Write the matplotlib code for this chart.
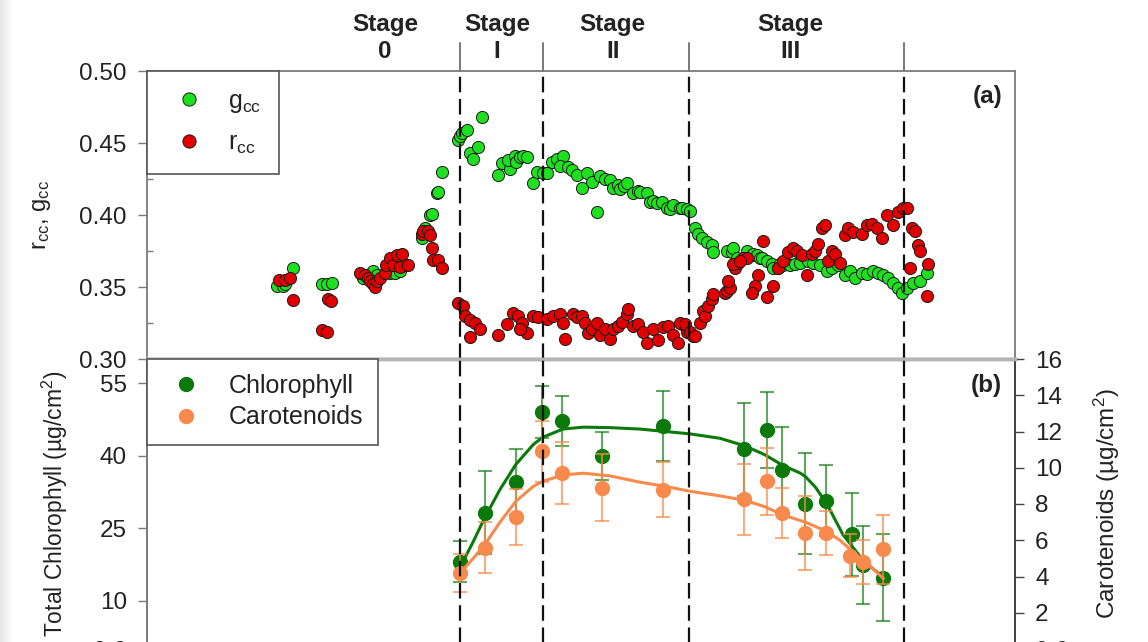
import numpy as np
import matplotlib
matplotlib.use("Agg")
import matplotlib.pyplot as plt
from matplotlib.transforms import blended_transform_factory
from matplotlib.lines import Line2D

plt.rcParams['font.family'] = ['Liberation Sans', 'DejaVu Sans']
plt.rcParams['mathtext.default'] = 'regular'

# ---------------- data ----------------
gcc_day = [18.0, 18.8, 19.1, 20.2, 24.2, 24.9, 25.6,
           29.9, 30.8, 31.2, 31.8, 33.6, 34.3, 35.0, 35.7,
           38.0, 38.4, 39.1, 39.4, 40.1, 40.2, 40.8,
           43.0, 43.3, 43.6, 44.2, 46.3, 44.7, 45.8, 45.1, 48.5, 49.1, 50.2, 49.9, 50.9, 51.0,
           51.6, 52.0, 52.5, 53.4, 53.9, 54.7, 55.3,
           56.0, 56.7, 57.5, 57.1, 58.2, 58.8, 59.5, 60.1, 60.8, 61.5, 62.6, 63.3, 64.0, 64.4,
           65.1, 65.4, 66.0, 66.4, 67.2, 67.9, 68.2, 69.1, 69.5, 70.0, 70.5, 71.2, 71.9, 72.3,
           72.7, 73.7, 74.0, 74.7, 75.1, 62.2,
           75.8, 76.2, 76.7, 77.4, 78.1, 78.3, 80.2, 80.9, 81.0, 81.6, 83.0, 83.6, 83.8, 84.3,
           84.8, 85.0, 85.7, 86.4, 86.5, 87.2, 87.5, 87.9, 88.9, 89.6, 90.3, 91.4, 92.1, 93.0,
           94.0, 94.7, 95.5, 96.5, 97.2, 97.9, 98.9, 99.5, 100.4, 101.1, 101.8, 102.4, 103.1,
           103.8, 104.4, 105.1, 105.9, 106.9, 107.8]
gcc_val = [0.351, 0.351, 0.352, 0.363, 0.352, 0.352, 0.353,
           0.356, 0.359, 0.361, 0.358, 0.360, 0.360, 0.361, 0.365,
           0.384, 0.391, 0.400, 0.401, 0.415, 0.416, 0.430,
           0.452, 0.455, 0.457, 0.459, 0.468, 0.443, 0.447, 0.439, 0.428, 0.436, 0.432, 0.438, 0.441, 0.437,
           0.440, 0.441, 0.440, 0.422, 0.430, 0.429, 0.429,
           0.437, 0.439, 0.441, 0.434, 0.433, 0.431, 0.428, 0.419, 0.429, 0.423, 0.427, 0.425, 0.424, 0.419,
           0.421, 0.418, 0.420, 0.422, 0.415, 0.417, 0.416, 0.415, 0.409, 0.410, 0.408, 0.409, 0.405, 0.404,
           0.407, 0.405, 0.405, 0.404, 0.403, 0.402,
           0.391, 0.387, 0.384, 0.381, 0.379, 0.374, 0.375, 0.374, 0.377, 0.370, 0.375, 0.372, 0.373, 0.372,
           0.370, 0.370, 0.368, 0.366, 0.363, 0.363, 0.366, 0.365, 0.365, 0.366, 0.367, 0.368, 0.367, 0.365,
           0.361, 0.363, 0.365, 0.358, 0.361, 0.356, 0.360, 0.359, 0.361, 0.360, 0.358, 0.356, 0.353,
           0.349, 0.346, 0.349, 0.353, 0.354, 0.360]

rcc_day = [18.3, 19.1, 19.8, 20.2, 25.0, 25.4, 24.2, 24.9,
           29.4, 30.1, 30.5, 30.8, 31.2, 31.5, 31.8, 32.2, 32.9, 33.0, 33.6, 34.0, 34.6, 35.0, 35.3, 36.1,
           38.0, 38.2, 38.8, 39.1, 39.4, 39.5, 40.2, 40.8,
           43.0, 43.7, 44.0, 44.7, 45.3, 46.0, 44.7, 48.5, 49.8, 50.6, 51.3, 51.8, 52.5, 51.6,
           53.4, 54.1, 55.3, 56.1, 57.1, 57.5, 57.8, 58.9, 59.5, 60.1, 60.6, 61.0, 61.5, 62.2, 62.6,
           63.3, 64.0, 64.4, 65.1, 65.7, 66.4, 66.5, 67.2, 67.9, 68.6, 69.1, 70.0, 70.6, 71.3, 72.0,
           72.7, 73.4, 74.0, 74.7, 75.5,
           73.7, 74.4, 75.1, 75.8, 76.5, 76.9, 77.1, 77.6, 78.1, 78.3, 79.9, 80.2, 80.6, 80.3, 81.3,
           81.7, 82.4, 83.0, 81.0, 82.0, 85.2, 84.5, 84.1, 83.6, 85.7, 86.5, 87.2, 87.9, 88.6, 89.3,
           89.9, 90.6, 91.2, 91.9, 92.4, 92.8, 93.3, 93.7, 94.2, 94.7, 95.1, 95.8, 96.5, 96.9, 97.6,
           98.9, 99.5, 100.2, 100.9, 101.6, 102.3, 103.1, 103.8, 104.5, 105.1, 105.8, 106.2, 106.6,
           106.9, 105.5, 108.0, 107.8]
rcc_val = [0.355, 0.355, 0.356, 0.341, 0.342, 0.340, 0.320, 0.319,
           0.360, 0.358, 0.356, 0.354, 0.352, 0.350, 0.354, 0.356, 0.360, 0.365, 0.370, 0.365, 0.372, 0.364, 0.373, 0.365,
           0.387, 0.389, 0.389, 0.386, 0.377, 0.369, 0.369, 0.363,
           0.339, 0.337, 0.330, 0.327, 0.325, 0.321, 0.315, 0.317, 0.324, 0.332, 0.330, 0.325, 0.318, 0.321,
           0.330, 0.329, 0.328, 0.330, 0.331, 0.325, 0.314, 0.331, 0.329, 0.330, 0.325, 0.318, 0.321, 0.325, 0.317,
           0.321, 0.314, 0.321, 0.323, 0.326, 0.331, 0.335, 0.323, 0.324, 0.319, 0.311, 0.321, 0.313, 0.322, 0.323,
           0.317, 0.311, 0.324, 0.319, 0.316,
           0.325, 0.324, 0.319, 0.316, 0.325, 0.333, 0.330, 0.337, 0.342, 0.345, 0.346, 0.347, 0.349, 0.354, 0.363,
           0.367, 0.370, 0.370, 0.366, 0.368, 0.382, 0.358, 0.351, 0.346, 0.343, 0.351, 0.363, 0.368, 0.374, 0.377,
           0.375, 0.372, 0.358, 0.373, 0.375, 0.380, 0.391, 0.393, 0.368, 0.375, 0.373, 0.367, 0.386, 0.391, 0.388,
           0.387, 0.393, 0.394, 0.391, 0.384, 0.400, 0.393, 0.402, 0.405, 0.405, 0.391, 0.389, 0.379,
           0.375, 0.363, 0.366, 0.344]

chl_day = [43.3, 46.7, 51.0, 54.6, 57.4, 62.9, 71.3, 82.5, 85.7, 87.8, 91.0, 93.9, 97.5, 99.0, 101.8]
chl_val = [18.1, 28.2, 34.5, 49.0, 47.1, 39.9, 46.1, 41.3, 45.3, 37.0, 30.1, 30.7, 23.7, 17.4, 14.7]
chl_err = [4.2, 8.6, 6.8, 5.4, 5.2, 5.0, 7.3, 9.6, 7.8, 9.0, 10.4, 7.3, 8.6, 8.0, 9.0]

car_day = [43.3, 46.7, 51.0, 54.6, 57.4, 62.9, 71.3, 82.5, 85.7, 87.8, 91.0, 93.9, 97.2, 99.0, 101.8]
car_val = [4.2, 5.6, 7.3, 10.9, 9.7, 8.9, 8.8, 8.25, 9.25, 7.5, 6.4, 6.4, 5.15, 4.8, 5.5]
car_err = [1.05, 1.4, 1.55, 1.7, 1.7, 1.85, 1.5, 1.95, 1.85, 1.4, 2.05, 1.2, 1.2, 1.2, 1.9]

chl_fit_day = [43.3, 45.1, 46.7, 48.8, 51.0, 53.4, 54.7, 57.5, 60.3, 64.0, 68.2, 75.1, 79.2,
               82.7, 85.4, 87.9, 90.3, 91.0, 92.4, 94.0, 96.2, 98.6, 100.2, 101.8]
chl_fit_val = [17.0, 22.2, 27.2, 33.0, 38.2, 42.3, 43.8, 45.5, 45.9, 45.8, 45.5, 44.5, 43.6,
               42.0, 40.2, 38.0, 36.4, 35.7, 33.5, 30.0, 23.7, 19.1, 16.8, 14.9]
car_fit_day = [43.3, 45.1, 46.7, 48.8, 51.0, 53.4, 54.7, 57.5, 60.3, 64.0, 68.2, 71.3, 75.1,
               79.2, 82.7, 85.4, 87.9, 91.0, 93.9, 95.8, 97.2, 99.0, 100.4, 101.8]
car_fit_val = [4.2, 5.0, 5.76, 7.0, 8.15, 8.97, 9.25, 9.6, 9.7, 9.55, 9.2, 9.0, 8.7,
               8.45, 8.2, 7.85, 7.4, 7.0, 6.5, 6.0, 5.5, 4.9, 4.4, 3.9]

stage_bounds = [43.3, 54.7, 74.9, 104.7]
stage_labels = ["Stage\n0", "Stage\nI", "Stage\nII", "Stage\nIII"]
stage_label_day = [32.9, 48.4, 64.4, 88.9]

top_yticks = [0.30, 0.35, 0.40, 0.45, 0.50]
left_yticks = [0, 10, 25, 40, 55]
left_yticklabels = ["0.0", "10", "25", "40", "55"]
right_yticks = [0, 2, 4, 6, 8, 10, 12, 14, 16]
right_yticklabels = ["0.0", "2", "4", "6", "8", "10", "12", "14", "16"]

# ---------------- style ----------------
W, H = 1148, 642
fig = plt.figure(figsize=(W / 100, H / 100), dpi=100)
FS = 17.5
LFS = 18
c_g = '#1fe01f'
c_r = '#e10000'
c_chl = '#0b7a0b'
c_car = '#f78a4c'
spine_c = '#7a7a7a'
txt_c = '#222222'

# light gray gradient strip at left edge
axg = fig.add_axes([0, 0, 13 / W, 1])
axg.imshow(np.linspace(0.90, 1.0, 50)[None, :], cmap='gray', vmin=0, vmax=1,
           aspect='auto', extent=[0, 1, 0, 1])
axg.axis('off')

L = 147 / W
Wd = 868 / W
ax = fig.add_axes([L, (H - 359) / H, Wd, 288 / H])
axb = fig.add_axes([L, (H - 649) / H, Wd, 290 / H])
axr = axb.twinx()

# ---- top panel ----
ax.scatter(gcc_day, gcc_val, s=76, c=c_g, edgecolors='#1a1a1a', linewidths=0.7, zorder=3)
ax.scatter(rcc_day, rcc_val, s=76, c=c_r, edgecolors='#1a1a1a', linewidths=0.7, zorder=4)
ax.set_xlim(0, 120)
ax.set_ylim(0.30, 0.50)
ax.set_yticks(top_yticks)
ax.set_yticklabels([f"{v:.2f}" for v in top_yticks])
ax.set_yticks([0.325, 0.375, 0.425, 0.475], minor=True)
ax.tick_params(axis='y', which='major', direction='out', length=6.5, width=1, color=spine_c,
               labelsize=FS, labelcolor=txt_c, pad=8)
ax.tick_params(axis='y', which='minor', direction='in', length=4, width=1, color=spine_c)
ax.set_xticks([20, 40, 60, 80, 100])
ax.tick_params(axis='x', which='major', direction='out', length=3, width=1, color=spine_c,
               labelbottom=False)
for s in ['top', 'left', 'right']:
    ax.spines[s].set_color(spine_c)
    ax.spines[s].set_linewidth(1.3)
ax.spines['bottom'].set_color('#b4b4b4')
ax.spines['bottom'].set_linewidth(2.5)
ax.set_ylabel("r$_{cc}$, g$_{cc}$", fontsize=17, color=txt_c)
ax.yaxis.set_label_coords(-0.108, 0.5)

h1 = [Line2D([], [], marker='o', ls='none', ms=9.5, mfc=c_g, mec='#1a1a1a', mew=0.7),
      Line2D([], [], marker='o', ls='none', ms=9.5, mfc=c_r, mec='#1a1a1a', mew=0.7)]
leg1 = ax.legend(h1, ["g$_{cc}$", "r$_{cc}$"], loc='upper left', bbox_to_anchor=(0, 1),
                 borderaxespad=0, fontsize=LFS, frameon=True, fancybox=False,
                 edgecolor='#555555', framealpha=1, borderpad=0.72, labelspacing=0.62,
                 handlelength=1.9, handletextpad=0.6)
leg1.get_frame().set_linewidth(1.2)
for t in leg1.get_texts():
    t.set_color(txt_c)
leg1.set_zorder(10)

ax.text(118.3, 0.913, "(a)", transform=blended_transform_factory(ax.transData, ax.transAxes),
        ha='right', va='center', fontsize=FS, fontweight='bold', color=txt_c)

# ---- bottom panel ----
axb.errorbar(chl_day, chl_val, yerr=chl_err, fmt='none', ecolor=c_chl, alpha=0.65,
             elinewidth=1.5, capsize=5, capthick=1.5, zorder=2)
axb.plot(chl_fit_day, chl_fit_val, color=c_chl, lw=2.2, zorder=3)
axb.plot(chl_day, chl_val, 'o', color=c_chl, ms=10, zorder=4)
axr.errorbar(car_day, car_val, yerr=car_err, fmt='none', ecolor=c_car, alpha=0.7,
             elinewidth=1.5, capsize=5, capthick=1.5, zorder=2)
axr.plot(car_fit_day, car_fit_val, color=c_car, lw=2.2, zorder=3)
axr.plot(car_day, car_val, 'o', color=c_car, ms=10, zorder=4)

axb.set_xlim(0, 120)
axb.set_ylim(0, 60)
axr.set_ylim(0, 16)
axb.set_yticks(left_yticks)
axb.set_yticklabels(left_yticklabels)
axr.set_yticks(right_yticks)
axr.set_yticklabels(right_yticklabels)
axb.tick_params(axis='y', direction='out', length=6.5, width=1, color=spine_c,
                labelsize=FS, labelcolor=txt_c, pad=8)
axr.tick_params(axis='y', direction='out', length=6.5, width=1, color='#444444',
                labelsize=FS, labelcolor=txt_c, pad=8)
axb.set_xticks([])
for a in (axb, axr):
    a.spines['top'].set_color('#b4b4b4')
    a.spines['top'].set_linewidth(2.5)
    a.spines['left'].set_color(spine_c)
    a.spines['left'].set_linewidth(1.3)
    a.spines['right'].set_color('#444444')
    a.spines['right'].set_linewidth(1.3)
    a.spines['bottom'].set_color(spine_c)
axb.set_ylabel("Total Chlorophyll (µg/cm$^2$)", fontsize=16.5, color=txt_c)
axb.yaxis.set_label_coords(-0.089, 0.5)
axr.set_ylabel("Carotenoids (µg/cm$^2$)", fontsize=17.5, color=txt_c, rotation=90)
axr.yaxis.set_label_coords(1.089, 0.5)

h2 = [Line2D([], [], marker='o', ls='none', ms=10, color=c_chl),
      Line2D([], [], marker='o', ls='none', ms=10, color=c_car)]
leg2 = axr.legend(h2, ["Chlorophyll", "Carotenoids"], loc='upper left', bbox_to_anchor=(0, 1),
                  borderaxespad=0, fontsize=LFS, frameon=True, fancybox=False,
                  edgecolor='#555555', framealpha=1, borderpad=0.6, labelspacing=0.3,
                  handlelength=1.9, handletextpad=0.75)
leg2.get_frame().set_linewidth(1.2)
for t in leg2.get_texts():
    t.set_color(txt_c)
leg2.set_zorder(10)

axr.text(118.2, 0.91, "(b)", transform=blended_transform_factory(axr.transData, axr.transAxes),
         ha='right', va='center', fontsize=FS, fontweight='bold', color=txt_c)

# ---- stage boundaries ----
bt = blended_transform_factory(ax.transData, ax.transAxes)
for xb in stage_bounds:
    for a in (ax, axr):
        a.axvline(xb, color='#111111', lw=1.6, ls=(0, (7.0, 3.0)), zorder=5)
    ax.plot([xb, xb], [1.0, 1.097], transform=bt, color='#555555', lw=1.1, clip_on=False)
for xs, lab in zip(stage_label_day, stage_labels):
    ax.text(xs, 1.027, lab, transform=bt, ha='center', va='bottom', fontsize=FS,
            fontweight='bold', color=txt_c, linespacing=1.25)

fig.savefig("out.png", dpi=100)
